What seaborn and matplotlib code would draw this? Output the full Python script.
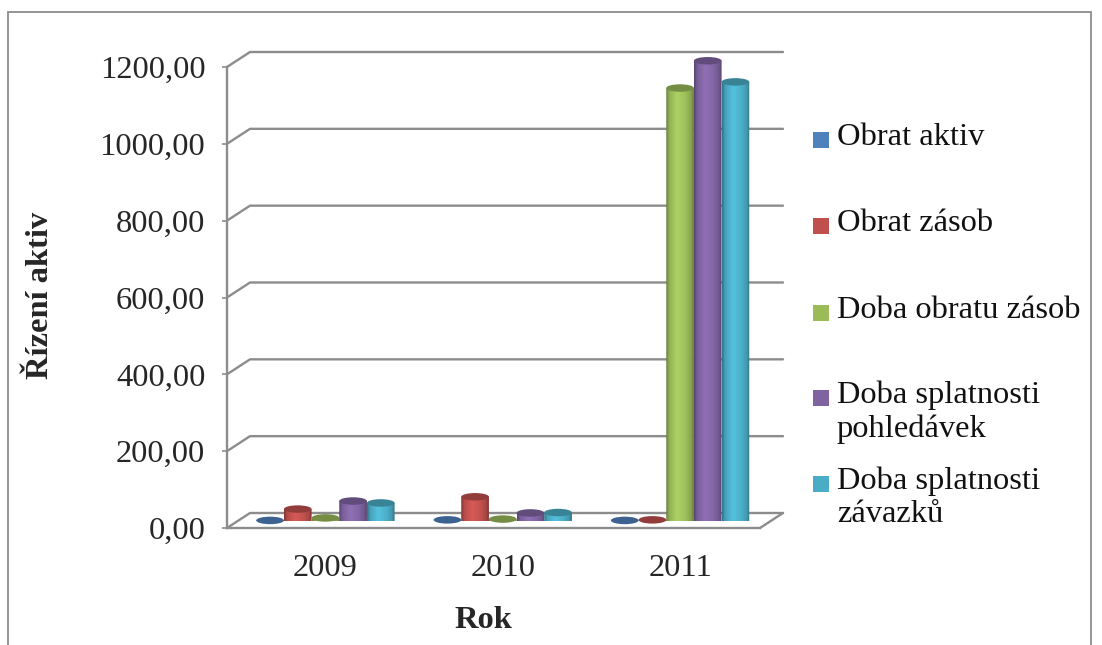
import numpy as np
import pandas as pd
import matplotlib
matplotlib.use("Agg")
import matplotlib.pyplot as plt
import seaborn as sns
from matplotlib.patches import Ellipse, PathPatch, Rectangle
from matplotlib.path import Path
from matplotlib.colors import to_rgb

years = ["2009", "2010", "2011"]
series_names = ["Obrat aktiv", "Obrat zásob", "Doba obratu zásob",
                "Doba splatnosti\npohledávek", "Doba splatnosti\nzávazků"]
obrat_aktiv = [1.5, 3.0, 1.5]
obrat_zasob = [31.0, 63.0, 3.0]
doba_obratu_zasob = [8.0, 5.0, 1127.0]
doba_splatnosti_pohledavek = [52.0, 21.0, 1198.0]
doba_splatnosti_zavazku = [47.0, 22.0, 1143.0]
series_values = [obrat_aktiv, obrat_zasob, doba_obratu_zasob,
                 doba_splatnosti_pohledavek, doba_splatnosti_zavazku]
colors = ["#4f81bd", "#c0504d", "#9bbb59", "#8064a2", "#4bacc6"]
y_ticks = [0, 200, 400, 600, 800, 1000, 1200]

W, H = 1102, 645
GRAY = "#8c8c8c"
FS = 23.4

sns.set_theme(style="white")
plt.rcParams["font.family"] = ["Liberation Serif", "DejaVu Serif"]
plt.rcParams["text.color"] = "#111111"

fig = plt.figure(figsize=(W / 100, H / 100), dpi=100, facecolor="white")


def axes_rect(left, top, right, bottom):
    """Axes rectangle from pixel edges measured from the top-left corner."""
    return [left / W, 1 - bottom / H, (right - left) / W, (bottom - top) / H]


# outer chart border
fig.add_artist(Rectangle((8 / W, -0.05), (1091 - 8) / W, 1.05 - 12 / H,
                         transform=fig.transFigure, fill=False,
                         edgecolor=GRAY, linewidth=1.3))

# front plane of the 3D box: value axis and walls, x measured in pixels
front = fig.add_axes(axes_rect(227, 67, 760, 528), facecolor="none")
front.set_xlim(0, 533)
front.set_ylim(0, 1200)
unit_px = 461 / 1200
depth_x, depth_y = 23, 15 / unit_px
for v in y_ticks:
    front.plot([0, depth_x, 533 + depth_x], [v + 0, v + depth_y, v + depth_y],
               color=GRAY, lw=1.7, clip_on=False, solid_capstyle="round", zorder=1)
front.plot([533, 533 + depth_x], [0, depth_y], color=GRAY, lw=1.7, clip_on=False, zorder=1)
sns.despine(ax=front, top=True, right=True)
for side in ("left", "bottom"):
    front.spines[side].set_color(GRAY)
    front.spines[side].set_linewidth(1.7)
front.set_xticks([])
front.set_yticks(y_ticks)
front.set_yticklabels([f"{v},00" for v in y_ticks], fontsize=FS)
front.tick_params(axis="y", left=True, length=3.6, width=1.2, color=GRAY, pad=12)
front.set_ylabel("Řízení aktiv", fontsize=FS, fontweight="bold")
front.yaxis.set_label_coords((55 - 227) / 533, (528 - 295) / 461)

# cylinders: sit slightly behind the front edge of the floor
ax = fig.add_axes(axes_rect(236.75, 60, 768.75, 521), facecolor="none")
long_table = pd.DataFrame({
    "year": np.repeat(years, len(series_names)),
    "series": series_names * len(years),
    "value": [series_values[s][y] for y in range(len(years)) for s in range(len(series_names))],
})
sns.barplot(data=long_table, x="year", y="value", hue="series", hue_order=series_names,
            order=years, palette=colors, width=0.78, gap=0, legend=False, ax=ax,
            errorbar=None, saturation=1)
ax.set_ylim(0, 1200)
ax.set_xlim(-0.5, 2.5)

ellipse_h = 7.5 / unit_px
profile_x = [0.0, 0.12, 0.4, 0.7, 0.9, 1.0]
profile_k = [0.68, 0.95, 1.12, 1.02, 0.88, 0.66]
xs = np.linspace(0, 1, 64)
shade = np.interp(xs, profile_x, profile_k)

for order, bar in enumerate(list(ax.patches)):
    x0, bw, h = bar.get_x(), bar.get_width(), bar.get_height()
    if bw == 0:
        continue
    base = np.array(to_rgb(bar.get_facecolor()[:3]))
    bar.set_visible(False)
    z = 3 + order * 0.01
    gradient = np.clip(shade[:, None] * base[None, :], 0, 1)[None, :, :]
    xc = x0 + bw / 2
    # body outline: the side walls closed by the lower half of the base ellipse
    t = np.linspace(np.pi, 2 * np.pi, 30)
    px = np.r_[x0, xc + bw / 2 * np.cos(t), x0 + bw, x0]
    py = np.r_[h, ellipse_h / 2 * np.sin(t), h, h]
    body = PathPatch(Path(np.c_[px, py]), transform=ax.transData, facecolor="none", edgecolor="none")
    ax.add_patch(body)
    im = ax.imshow(gradient, extent=(x0, x0 + bw, -ellipse_h, h), aspect="auto", zorder=z,
                   interpolation="bilinear")
    im.set_clip_path(body)
    im.set_clip_on(True)
    cap = Ellipse((xc, h), bw, ellipse_h, facecolor=base * 0.76, edgecolor="none",
                  zorder=z + 0.001, clip_on=False)
    ax.add_patch(cap)
ax.set_xlim(-0.5, 2.5)
ax.set_ylim(0, 1200)
ax.set_yticks([])
ax.set_ylabel("")
sns.despine(ax=ax, left=True, bottom=True)
ax.set_xticks(range(len(years)))
ax.set_xticklabels(years, fontsize=FS)
ax.tick_params(axis="x", length=0, pad=24)
ax.set_xlabel("Rok", fontsize=FS, fontweight="bold")
ax.xaxis.set_label_coords((483 - 236.75) / 532, (521 - 620) / 461)
ax.xaxis.label.set_verticalalignment("center")

# legend column
legend_rows = [140, 226, 313, 398, 484]
for name, color, row in zip(series_names, colors, legend_rows):
    fig.add_artist(Rectangle((813 / W, 1 - (row + 8) / H), 16 / W, 16 / H,
                             transform=fig.transFigure, facecolor=color, edgecolor="none"))
    fig.text(837 / W, 1 - (row - 17) / H, name, fontsize=FS, va="top", ha="left",
             linespacing=1.18)

fig.savefig("out.png", dpi=100)
